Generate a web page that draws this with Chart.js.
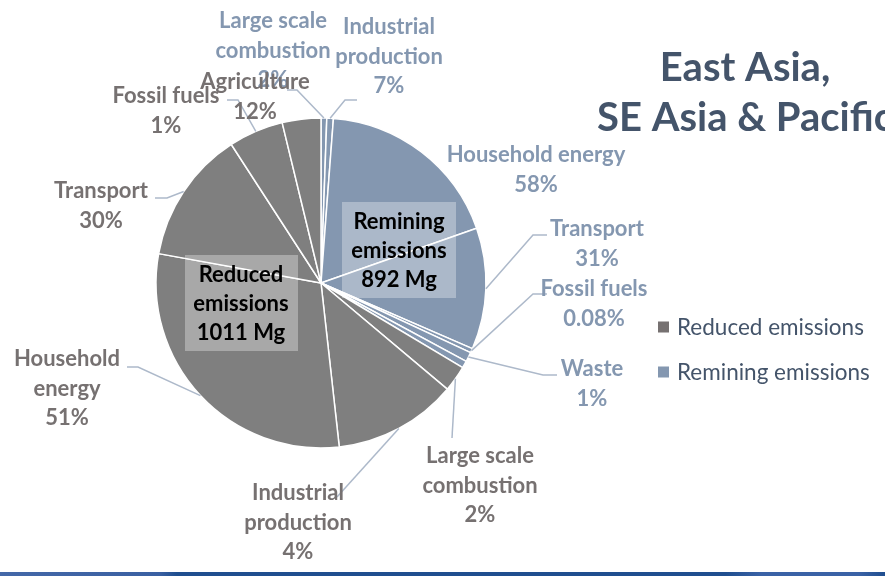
<!DOCTYPE html>
<html>
<head>
<meta charset="utf-8">
<script src="https://cdn.jsdelivr.net/npm/chart.js@4/dist/chart.umd.min.js"></script>
<style>
  html, body { margin: 0; padding: 0; background: #ffffff; }
  #wrap { width: 885px; height: 576px; position: relative; }
</style>
</head>
<body>
<div id="wrap"><canvas id="c" width="885" height="576"></canvas></div>
<script>
// ---------------- data ----------------
const sliceNames = [
  'Large scale combustion', 'Industrial production', 'Household energy', 'Transport',
  'Fossil fuels', 'Waste', 'Agriculture',
  'Large scale combustion', 'Industrial production', 'Household energy', 'Transport',
  'Agriculture', 'Fossil fuels'
];
// share of the whole pie (%), remaining emissions slices
const remainingValues = [0.56, 0.64, 18.4, 11.9, 0.42, 0.94, 0.69];
// share of the whole pie (%), reduced emissions slices
const reducedValues = [2.56, 12.1, 29.6, 13.0, 5.36, 3.78];
// percentages printed in the data labels
const remainingShares = ['2%', '7%', '58%', '31%', '0.08%', '1%', null];
const reducedShares = ['2%', '4%', '51%', '30%', '12%', '1%'];
const groupNames = ['Reduced emissions', 'Remining emissions'];
const groupTotalsMg = [1011, 892];
const titleLines = ['East Asia,', 'SE Asia & Pacific'];

// ---------------- styles / layout ----------------
const BLUE = '#8497b0';
const GRAY = '#7f7f7f';
const BLUE_TXT = '#8497b0';
const GRAY_TXT = '#767171';
const LEADER = '#adb9ca';
const TITLE_C = '#44546a';
const FONT = 'Lato, "Open Sans", sans-serif';

const nRemaining = remainingValues.length;
const values = remainingValues.concat(reducedValues);
const colors = values.map((v, i) => i < nRemaining ? BLUE : GRAY);
const shares = remainingShares.concat(reducedShares);

// label layout: cx, y of first line centre, words before line break (0 = no break), leader via points
const labelLayout = [
  {cx: 273, y: 21, brk: 2, via: [[297, 90], [287, 90]]},
  {cx: 389, y: 27, brk: 1, via: [[345, 100], [357, 100]]},
  {cx: 536, y: 155, brk: 0, via: null},
  {cx: 597, y: 229, brk: 0, via: [[533, 235], [547, 235]]},
  {cx: 594, y: 289, brk: 0, via: [[533, 294], [547, 294]]},
  {cx: 592, y: 369, brk: 0, via: [[543, 375], [557, 375]]},
  null,
  {cx: 480, y: 456, brk: 2, via: [[452, 438]]},
  {cx: 298, y: 493, brk: 1, via: [[337, 497]]},
  {cx: 67, y: 359, brk: 1, via: [[138, 367], [127, 367]]},
  {cx: 101, y: 191, brk: 0, via: [[167, 198], [155, 198]]},
  {cx: 255, y: 82, brk: 0, via: [[238, 100], [227, 100]]},
  {cx: 166, y: 96, brk: 0, via: null}
];
const LINE_H = 29.5;

const groupBoxes = [
  {x: 185, y: 255, w: 113, h: 96, cx: 241, ys: [275, 304, 333]},
  {x: 342, y: 202, w: 114, h: 96, cx: 399, ys: [222, 251, 280]}
];

const overlayPlugin = {
  id: 'overlay',
  beforeDraw(chart) {
    const ctx = chart.ctx;
    ctx.save();
    ctx.fillStyle = '#ffffff';
    ctx.fillRect(0, 0, chart.width, chart.height);
    const g = ctx.createLinearGradient(0, 0, 885, 0);
    g.addColorStop(0, '#4468a8');
    g.addColorStop(0.18, '#3a60a2');
    g.addColorStop(0.2, '#1f4e8f');
    g.addColorStop(0.82, '#1f4e8f');
    g.addColorStop(0.86, '#3a62a6');
    g.addColorStop(0.97, '#3a62a6');
    g.addColorStop(1, '#1f4e8f');
    ctx.fillStyle = g;
    ctx.fillRect(0, 572, 885, 4);
    ctx.restore();
  },
  afterDraw(chart) {
    const ctx = chart.ctx;
    const meta = chart.getDatasetMeta(0);
    ctx.save();
    // leader lines
    ctx.strokeStyle = LEADER;
    ctx.lineWidth = 1.5;
    meta.data.forEach((arc, i) => {
      const L = labelLayout[i];
      if (!L || !L.via) return;
      const p = arc.getProps(['x', 'y', 'startAngle', 'endAngle', 'outerRadius'], true);
      const a = (p.startAngle + p.endAngle) / 2;
      ctx.beginPath();
      ctx.moveTo(p.x + Math.cos(a) * p.outerRadius, p.y + Math.sin(a) * p.outerRadius);
      L.via.forEach(pt => ctx.lineTo(pt[0], pt[1]));
      ctx.stroke();
    });
    // data labels
    ctx.font = 'bold 22px ' + FONT;
    ctx.textAlign = 'center';
    ctx.textBaseline = 'middle';
    meta.data.forEach((arc, i) => {
      const L = labelLayout[i];
      if (!L) return;
      const words = sliceNames[i].split(' ');
      const lines = L.brk ? [words.slice(0, L.brk).join(' '), words.slice(L.brk).join(' ')] : [sliceNames[i]];
      lines.push(shares[i]);
      ctx.fillStyle = i < nRemaining ? BLUE_TXT : GRAY_TXT;
      lines.forEach((t, k) => ctx.fillText(t, L.cx, L.y + k * LINE_H));
    });
    // group boxes
    groupBoxes.forEach((b, gi) => {
      ctx.fillStyle = 'rgba(255,255,255,0.32)';
      ctx.fillRect(b.x, b.y, b.w, b.h);
      const nm = groupNames[gi].split(' ');
      const lines = [nm[0], nm.slice(1).join(' '), groupTotalsMg[gi] + ' Mg'];
      ctx.fillStyle = '#000000';
      lines.forEach((t, k) => ctx.fillText(t, b.cx, b.ys[k]));
    });
    // title
    ctx.fillStyle = TITLE_C;
    ctx.font = 'bold 40px ' + FONT;
    ctx.fillText(titleLines[0], 745, 68);
    ctx.fillText(titleLines[1], 745, 118);
    // legend
    ctx.font = '22.5px ' + FONT;
    ctx.textAlign = 'left';
    const legendColors = ['#767171', BLUE];
    const legendY = [327, 372];
    groupNames.forEach((n, k) => {
      ctx.fillStyle = legendColors[k];
      ctx.fillRect(658, legendY[k] - 5.5, 11, 11);
      ctx.fillStyle = TITLE_C;
      ctx.fillText(n, 677, legendY[k] + 1);
    });
    ctx.restore();
  }
};

new Chart(document.getElementById('c'), {
  type: 'pie',
  data: {
    labels: sliceNames,
    datasets: [{
      data: values,
      backgroundColor: colors,
      borderColor: '#ffffff',
      borderWidth: 1.5,
      radius: 165
    }]
  },
  options: {
    responsive: false,
    animation: false,
    layout: {padding: {left: 156, top: 118, right: 399, bottom: 128}},
    plugins: {legend: {display: false}, tooltip: {enabled: false}, title: {display: false}}
  },
  plugins: [overlayPlugin]
});
</script>
</body>
</html>
